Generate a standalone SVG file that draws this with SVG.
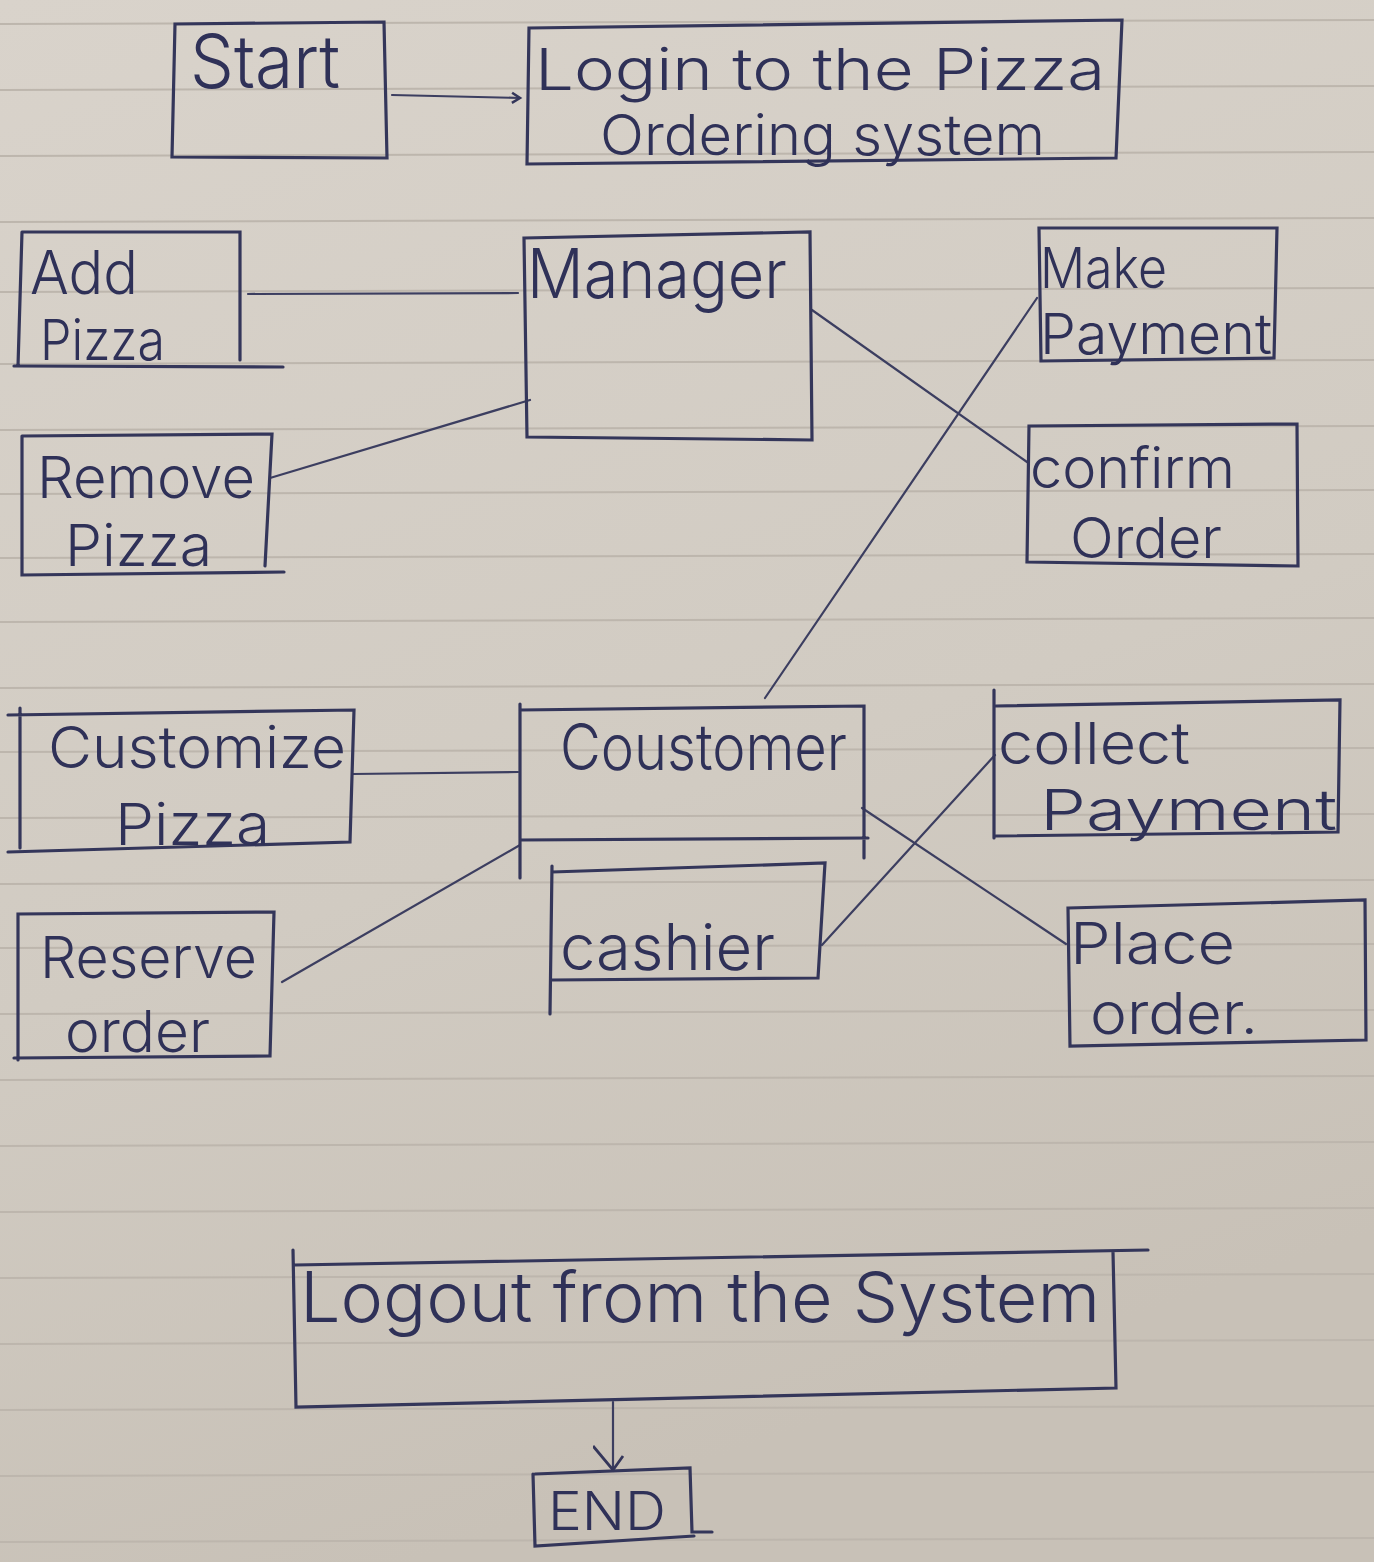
<svg xmlns="http://www.w3.org/2000/svg" width="1374" height="1562" viewBox="0 0 1374 1562">
<style>
.box{fill:none;stroke:#34365a;stroke-width:3.2;stroke-linecap:round}
.con{fill:none;stroke:#3c3e60;stroke-width:2.2;stroke-linecap:round}
.t{font-family:Inter,"DejaVu Sans","Liberation Sans",sans-serif;fill:#2f3158;font-weight:300}
.rule{stroke:#bdb6ad;stroke-width:2}
</style>
<defs>
<linearGradient id="paper" x1="0" y1="0" x2="0.3" y2="1">
<stop offset="0" stop-color="#d9d3cb"/>
<stop offset="0.6" stop-color="#d1cbc2"/>
<stop offset="1" stop-color="#c8c1b7"/>
</linearGradient>
<marker id="arr" markerWidth="14" markerHeight="14" refX="10" refY="7" orient="auto" markerUnits="userSpaceOnUse">
<path d="M2,2 L10,7 L2,12" fill="none" stroke="#34365a" stroke-width="2.5"/>
</marker>
<marker id="arr2" markerWidth="40" markerHeight="40" refX="30" refY="20" orient="auto" markerUnits="userSpaceOnUse">
<path d="M16,10 L30,20 L6,40" fill="none" stroke="#34365a" stroke-width="2.8"/>
</marker>
</defs>
<rect width="1374" height="1562" fill="url(#paper)"/>
<g id="ruling">
<line class="rule" x1="0" y1="24" x2="1374" y2="20"/>
<line class="rule" x1="0" y1="90" x2="1374" y2="86"/>
<line class="rule" x1="0" y1="156" x2="1374" y2="152"/>
<line class="rule" x1="0" y1="222" x2="1374" y2="218"/>
<line class="rule" x1="0" y1="292" x2="1374" y2="288"/>
<line class="rule" x1="0" y1="364" x2="1374" y2="360"/>
<line class="rule" x1="0" y1="430" x2="1374" y2="426"/>
<line class="rule" x1="0" y1="494" x2="1374" y2="490"/>
<line class="rule" x1="0" y1="558" x2="1374" y2="554"/>
<line class="rule" x1="0" y1="622" x2="1374" y2="618"/>
<line class="rule" x1="0" y1="688" x2="1374" y2="684"/>
<line class="rule" x1="0" y1="752" x2="1374" y2="748"/>
<line class="rule" x1="0" y1="818" x2="1374" y2="814"/>
<line class="rule" x1="0" y1="884" x2="1374" y2="880"/>
<line class="rule" x1="0" y1="948" x2="1374" y2="944"/>
<line class="rule" x1="0" y1="1014" x2="1374" y2="1010"/>
<line class="rule" x1="0" y1="1080" x2="1374" y2="1076"/>
<line class="rule" x1="0" y1="1146" x2="1374" y2="1142"/>
<line class="rule" x1="0" y1="1212" x2="1374" y2="1208"/>
<line class="rule" x1="0" y1="1278" x2="1374" y2="1274"/>
<line class="rule" x1="0" y1="1344" x2="1374" y2="1340"/>
<line class="rule" x1="0" y1="1410" x2="1374" y2="1406"/>
<line class="rule" x1="0" y1="1476" x2="1374" y2="1472"/>
<line class="rule" x1="0" y1="1542" x2="1374" y2="1538"/>
</g>
<g id="connectors">
<line class="con" x1="392" y1="95" x2="520" y2="98" marker-end="url(#arr)"/>
<line class="con" x1="248" y1="294" x2="518" y2="293"/>
<line class="con" x1="270" y1="478" x2="530" y2="400"/>
<line class="con" x1="812" y1="310" x2="1027" y2="462"/>
<line class="con" x1="1037" y1="298" x2="765" y2="698"/>
<line class="con" x1="353" y1="774" x2="518" y2="772"/>
<line class="con" x1="282" y1="982" x2="520" y2="845"/>
<line class="con" x1="862" y1="808" x2="1066" y2="944"/>
<line class="con" x1="822" y1="945" x2="995" y2="755"/>
<line class="con" x1="613" y1="1402" x2="613" y2="1470" marker-end="url(#arr2)"/>
</g>
<g id="start">
<path class="box" d="M175,24 L384,22 L387,158 L172,157 Z"/>
<text class="t" x="190" y="88" font-size="74" textLength="150" lengthAdjust="spacingAndGlyphs">Start</text>
</g>
<g id="login">
<path class="box" d="M529,28 L1122,20 L1116,158 L527,164 Z"/>
<text class="t" x="535" y="90" font-size="58" textLength="570" lengthAdjust="spacingAndGlyphs">Login to the Pizza</text>
<text class="t" x="600" y="155" font-size="56" textLength="445" lengthAdjust="spacingAndGlyphs">Ordering system</text>
</g>
<g id="addPizza">
<path class="box" d="M22,232 L240,232 L240,360 M283,367 L14,366 M22,232 L18,366"/>
<text class="t" x="30" y="294" font-size="60" textLength="108" lengthAdjust="spacingAndGlyphs">Add</text>
<text class="t" x="40" y="360" font-size="56" textLength="125" lengthAdjust="spacingAndGlyphs">Pizza</text>
</g>
<g id="manager">
<path class="box" d="M524,238 L810,232 L812,440 L527,437 Z"/>
<text class="t" x="527" y="298" font-size="68" textLength="260" lengthAdjust="spacingAndGlyphs">Manager</text>
</g>
<g id="makePayment">
<path class="box" d="M1039,228 L1277,228 L1274,358 L1041,361 Z"/>
<text class="t" x="1040" y="288" font-size="56" textLength="127" lengthAdjust="spacingAndGlyphs">Make</text>
<text class="t" x="1040" y="354" font-size="56" textLength="232" lengthAdjust="spacingAndGlyphs">Payment</text>
</g>
<g id="removePizza">
<path class="box" d="M22,436 L272,434 L265,566 M284,572 L22,575 L22,436"/>
<text class="t" x="37" y="498" font-size="58" textLength="218" lengthAdjust="spacingAndGlyphs">Remove</text>
<text class="t" x="65" y="566" font-size="58" textLength="147" lengthAdjust="spacingAndGlyphs">Pizza</text>
</g>
<g id="confirmOrder">
<path class="box" d="M1029,426 L1297,424 L1298,566 L1027,562 Z"/>
<text class="t" x="1030" y="488" font-size="56" textLength="205" lengthAdjust="spacingAndGlyphs">confirm</text>
<text class="t" x="1070" y="558" font-size="56" textLength="152" lengthAdjust="spacingAndGlyphs">Order</text>
</g>
<g id="customizePizza">
<path class="box" d="M8,715 L354,710 L350,842 L8,852 M20,708 L20,848"/>
<text class="t" x="48" y="768" font-size="58" textLength="298" lengthAdjust="spacingAndGlyphs">Customize</text>
<text class="t" x="115" y="845" font-size="58" textLength="155" lengthAdjust="spacingAndGlyphs">Pizza</text>
</g>
<g id="customer">
<path class="box" d="M520,710 L864,706 L864,858 M520,704 L520,878 M520,840 L868,838"/>
<text class="t" x="560" y="770" font-size="64" textLength="287" lengthAdjust="spacingAndGlyphs">Coustomer</text>
</g>
<g id="collectPayment">
<path class="box" d="M994,690 L994,838 M996,706 L1340,700 L1338,832 L996,836"/>
<text class="t" x="998" y="764" font-size="58" textLength="192" lengthAdjust="spacingAndGlyphs">collect</text>
<text class="t" x="1040" y="830" font-size="56" textLength="297" lengthAdjust="spacingAndGlyphs">Payment</text>
</g>
<g id="cashier">
<path class="box" d="M552,872 L825,863 L818,978 L552,980 M552,866 L550,1014"/>
<text class="t" x="560" y="970" font-size="64" textLength="215" lengthAdjust="spacingAndGlyphs">cashier</text>
</g>
<g id="reserveOrder">
<path class="box" d="M14,1058 L270,1056 L274,912 L18,914 L18,1060"/>
<text class="t" x="40" y="978" font-size="58" textLength="217" lengthAdjust="spacingAndGlyphs">Reserve</text>
<text class="t" x="65" y="1052" font-size="58" textLength="145" lengthAdjust="spacingAndGlyphs">order</text>
</g>
<g id="placeOrder">
<path class="box" d="M1068,908 L1365,900 L1366,1040 L1070,1046 Z"/>
<text class="t" x="1070" y="964" font-size="58" textLength="165" lengthAdjust="spacingAndGlyphs">Place</text>
<text class="t" x="1090" y="1034" font-size="58" textLength="168" lengthAdjust="spacingAndGlyphs">order.</text>
</g>
<g id="logout">
<path class="box" d="M293,1250 L296,1407 L1116,1388 L1113,1252 M295,1265 L1148,1250"/>
<text class="t" x="300" y="1322" font-size="70" textLength="800" lengthAdjust="spacingAndGlyphs">Logout from the System</text>
</g>
<g id="end">
<path class="box" d="M535,1474 L690,1468 L692,1532 L712,1532 M533,1474 L535,1546 L694,1536"/>
<text class="t" x="548" y="1530" font-size="54" textLength="118" lengthAdjust="spacingAndGlyphs">END</text>
</g>
</svg>
